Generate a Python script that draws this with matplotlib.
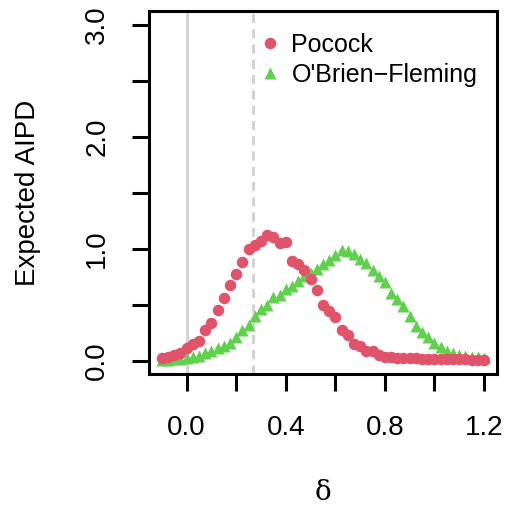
import numpy as np
import matplotlib.pyplot as plt

plt.rcParams['font.family'] = ['Liberation Sans', 'DejaVu Sans']

# effect sizes
delta = np.round(np.arange(-0.1, 1.2001, 0.025), 3)

pocock = [0.02, 0.03, 0.05, 0.07, 0.11, 0.15, 0.18, 0.27, 0.34, 0.45,
          0.56, 0.68, 0.77, 0.88, 1.00, 1.03, 1.07, 1.12, 1.10, 1.05,
          1.06, 0.89, 0.86, 0.81, 0.73, 0.63, 0.50, 0.44, 0.39, 0.27,
          0.23, 0.15, 0.13, 0.09, 0.09, 0.05, 0.03, 0.03, 0.025, 0.02,
          0.02, 0.02, 0.018, 0.016, 0.015, 0.014, 0.013, 0.012, 0.012, 0.011,
          0.01, 0.01, 0.01]

obf = [0.01, 0.01, 0.012, 0.015, 0.02, 0.03, 0.045, 0.07, 0.09, 0.11,
       0.13, 0.16, 0.21, 0.27, 0.32, 0.40, 0.46, 0.50, 0.57, 0.59,
       0.64, 0.67, 0.71, 0.76, 0.78, 0.82, 0.86, 0.90, 0.94, 0.99,
       0.98, 0.95, 0.91, 0.87, 0.81, 0.76, 0.70, 0.60, 0.55, 0.49,
       0.40, 0.31, 0.26, 0.21, 0.16, 0.12, 0.09, 0.07, 0.055, 0.045,
       0.035, 0.03, 0.025]

ref_line = 0.267
red = '#DF536B'
green = '#61D04F'

fig = plt.figure(figsize=(5.06, 5.07), dpi=100)
ax = fig.add_axes([0.2945, 0.262, 0.6875, 0.716])

ax.axvline(0, color='#D3D3D3', lw=2.2, zorder=1)
ax.axvline(ref_line, color='#D3D3D3', lw=2.2, ls=(0, (3, 2)), zorder=1)

ax.plot(delta, pocock, 'o', color=red, ms=8.3, mec='none', label='Pocock', zorder=3)
ax.plot(delta, obf, '^', color=green, ms=8, mec='none', label="O'Brien\u2212Fleming", zorder=2)

ax.set_xlim(-0.152, 1.252)
ax.set_ylim(-0.12, 3.12)
ax.set_xticks(np.arange(0, 1.21, 0.2))
ax.set_xticklabels(['0.0', '', '0.4', '', '0.8', '', '1.2'])
ax.set_yticks(np.arange(0, 3.01, 0.5))
ax.set_yticklabels(['0.0', '', '1.0', '', '2.0', '', '3.0'], rotation=90, va='center')

for s in ax.spines.values():
    s.set_linewidth(2.2)
ax.tick_params(direction='out', length=12.5, width=2.2, labelsize=20)
ax.tick_params(axis='x', pad=17)
ax.tick_params(axis='y', pad=15.5)

ax.set_ylabel('Expected AIPD', fontsize=20, labelpad=31)
ax.set_xlabel('\u03b4', fontsize=20, family='DejaVu Serif', labelpad=27)

ax.legend(loc='upper left', bbox_to_anchor=(0.255, 0.995), frameon=False,
          fontsize=18, handletextpad=0.35, labelspacing=0.25, handlelength=1.0,
          borderpad=0.3)

fig.savefig('out.png', dpi=100)
